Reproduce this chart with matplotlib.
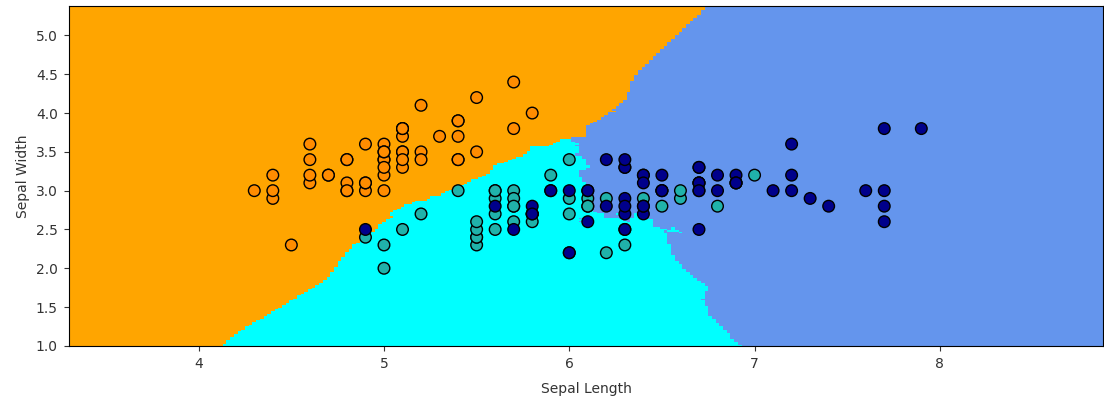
"""
Nearest neighbours decision regions on the iris sepal measurements
"""

import numpy as np
import matplotlib
matplotlib.use("Agg")
import matplotlib.pyplot as plt
from matplotlib.colors import ListedColormap

# iris: sepal length / sepal width, 50 samples per class
sepal_length = [
    5.1, 4.9, 4.7, 4.6, 5.0, 5.4, 4.6, 5.0, 4.4, 4.9, 5.4, 4.8, 4.8, 4.3, 5.8, 5.7, 5.4, 5.1, 5.7, 5.1,
    5.4, 5.1, 4.6, 5.1, 4.8, 5.0, 5.0, 5.2, 5.2, 4.7, 4.8, 5.4, 5.2, 5.5, 4.9, 5.0, 5.5, 4.9, 4.4, 5.1,
    5.0, 4.5, 4.4, 5.0, 5.1, 4.8, 5.1, 4.6, 5.3, 5.0,
    7.0, 6.4, 6.9, 5.5, 6.5, 5.7, 6.3, 4.9, 6.6, 5.2, 5.0, 5.9, 6.0, 6.1, 5.6, 6.7, 5.6, 5.8, 6.2, 5.6,
    5.9, 6.1, 6.3, 6.1, 6.4, 6.6, 6.8, 6.7, 6.0, 5.7, 5.5, 5.5, 5.8, 6.0, 5.4, 6.0, 6.7, 6.3, 5.6, 5.5,
    5.5, 6.1, 5.8, 5.0, 5.6, 5.7, 5.7, 6.2, 5.1, 5.7,
    6.3, 5.8, 7.1, 6.3, 6.5, 7.6, 4.9, 7.3, 6.7, 7.2, 6.5, 6.4, 6.8, 5.7, 5.8, 6.4, 6.5, 7.7, 7.7, 6.0,
    6.9, 5.6, 7.7, 6.3, 6.7, 7.2, 6.2, 6.1, 6.4, 7.2, 7.4, 7.9, 6.4, 6.3, 6.1, 7.7, 6.3, 6.4, 6.0, 6.9,
    6.7, 6.9, 5.8, 6.8, 6.7, 6.7, 6.3, 6.5, 6.2, 5.9,
]
sepal_width = [
    3.5, 3.0, 3.2, 3.1, 3.6, 3.9, 3.4, 3.4, 2.9, 3.1, 3.7, 3.4, 3.0, 3.0, 4.0, 4.4, 3.9, 3.5, 3.8, 3.8,
    3.4, 3.7, 3.6, 3.3, 3.4, 3.0, 3.4, 3.5, 3.4, 3.2, 3.1, 3.4, 4.1, 4.2, 3.1, 3.2, 3.5, 3.6, 3.0, 3.4,
    3.5, 2.3, 3.2, 3.5, 3.8, 3.0, 3.8, 3.2, 3.7, 3.3,
    3.2, 3.2, 3.1, 2.3, 2.8, 2.8, 3.3, 2.4, 2.9, 2.7, 2.0, 3.0, 2.2, 2.9, 2.9, 3.1, 3.0, 2.7, 2.2, 2.5,
    3.2, 2.8, 2.5, 2.8, 2.9, 3.0, 2.8, 3.0, 2.9, 2.6, 2.4, 2.4, 2.7, 2.7, 3.0, 3.4, 3.1, 2.3, 3.0, 2.5,
    2.6, 3.0, 2.6, 2.3, 2.7, 3.0, 2.9, 2.9, 2.5, 2.8,
    3.3, 2.7, 3.0, 2.9, 3.0, 3.0, 2.5, 2.9, 2.5, 3.6, 3.2, 2.7, 3.0, 2.5, 2.8, 3.2, 3.0, 3.8, 2.6, 2.2,
    3.2, 2.8, 2.8, 2.7, 3.3, 3.2, 2.8, 3.0, 2.8, 3.0, 2.8, 3.8, 2.8, 2.8, 2.6, 3.0, 3.4, 3.1, 3.0, 3.1,
    3.1, 3.1, 2.7, 3.2, 3.3, 3.0, 2.5, 3.0, 3.4, 3.0,
]
species = [0] * 50 + [1] * 50 + [2] * 50

n_neighbors = 30
light_colors = ["orange", "cyan", "cornflowerblue"]
bold_colors = ["darkorange", "lightseagreen", "darkblue"]


X = np.column_stack([sepal_length, sepal_width])
y = np.array(species)

h = 0.02
x_min, x_max = X[:, 0].min() - 1, X[:, 0].max() + 1
y_min, y_max = X[:, 1].min() - 1, X[:, 1].max() + 1
xx, yy = np.meshgrid(np.arange(x_min, x_max, h), np.arange(y_min, y_max, h))
grid = np.c_[xx.ravel(), yy.ravel()]

# plain k-nearest-neighbour vote (uniform weights)
d = ((grid[:, None, :] - X[None, :, :]) ** 2).sum(axis=2)
idx = np.argsort(d, axis=1, kind="stable")[:, :n_neighbors]
votes = np.stack([(y[idx] == c).sum(axis=1) for c in range(3)], axis=1)
Z = votes.argmax(axis=1).reshape(xx.shape)

fig, ax = plt.subplots(figsize=(11.04, 3.98), dpi=100)
fig.subplots_adjust(left=0.0625, right=0.999, bottom=0.131, top=0.985)

ax.pcolormesh(xx, yy, Z, cmap=ListedColormap(light_colors), shading="nearest")
ax.scatter(X[:, 0], X[:, 1], c=y, cmap=ListedColormap(bold_colors),
           edgecolor="k", s=70, linewidths=1.0, zorder=3)

ax.set_xlim(xx.min(), xx.max())
ax.set_ylim(yy.min(), yy.max())
ax.tick_params(colors="#333333", labelcolor="#333333", pad=4.5)
ax.set_xlabel("Sepal Length", labelpad=8, color="#333333")
ax.set_ylabel("Sepal Width", color="#333333")

fig.savefig("out.png", dpi=100)
